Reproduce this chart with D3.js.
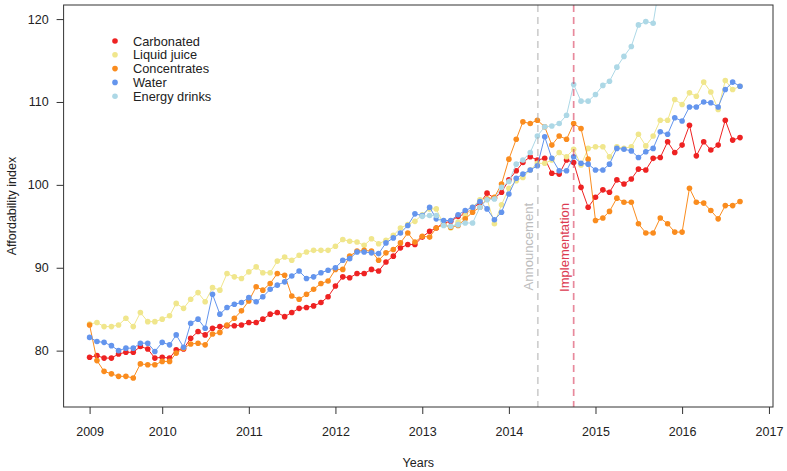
<!DOCTYPE html>
<html>
<head>
<meta charset="utf-8">
<script src="https://cdn.jsdelivr.net/npm/d3@7"></script>
<style>
  body { margin: 0; background: #fff; }
  svg { display: block; }
  text { font-family: "Liberation Sans", Arial, Helvetica, sans-serif; }
</style>
</head>
<body>
<svg id="chart" width="787" height="471"></svg>
<script>
// monthly index values, Mar 2009 .. Sep 2016 (91 months)
const carbonated = [79.2, 79.4, 79.1, 79.1, 79.6, 79.8, 79.8, 80.5, 80.2, 79.1, 79.2, 79.1, 80.1, 80.2, 81.5, 82.3, 81.9, 82.7, 82.9, 83.0,
  83.0, 83.1, 83.4, 83.4, 83.8, 84.4, 84.6, 84.1, 84.6, 85.1, 85.2, 85.4, 85.8, 86.5, 87.8, 88.9, 88.8, 89.3, 89.3, 89.8,
  89.6, 90.7, 91.4, 92.4, 92.8, 92.8, 93.7, 94.4, 94.8, 95.4, 95.6, 96.2, 96.5, 97.2, 97.8, 99.0, 98.4, 99.1, 100.6, 101.7,
  102.7, 103.4, 103.0, 103.2, 101.4, 101.3, 103.0, 102.7, 99.7, 97.3, 98.5, 99.4, 99.1, 100.6, 100.1, 100.7, 101.9, 101.8, 103.2, 103.3,
  105.2, 103.9, 104.8, 107.2, 103.5, 105.2, 104.2, 104.8, 107.8, 105.4, 105.7];
const liquidJuice = [83.2, 83.4, 82.9, 82.9, 83.1, 83.9, 82.9, 84.6, 83.5, 83.5, 83.8, 84.2, 85.7, 85.1, 86.2, 87.0, 85.9, 87.6, 87.3, 89.3,
  88.9, 88.7, 89.5, 90.1, 89.4, 89.4, 90.8, 91.3, 90.9, 91.5, 91.9, 92.1, 92.1, 92.1, 92.6, 93.4, 93.2, 93.1, 92.7, 93.5,
  92.9, 93.3, 93.9, 94.8, 95.2, 95.6, 96.4, 97.1, 97.1, 95.2, 94.8, 95.5, 96.3, 97.3, 98.2, 98.3, 95.3, 97.6, 99.6, 100.5,
  100.9, 101.8, 102.6, 102.6, 103.0, 103.9, 103.4, 104.3, 102.4, 104.4, 104.6, 104.6, 103.4, 104.6, 104.4, 104.6, 106.1, 104.7, 105.9, 107.8,
  107.8, 110.3, 109.7, 111.1, 110.7, 112.4, 111.2, 109.1, 112.6, 111.5, 111.9];
const concentrates = [83.1, 78.8, 77.5, 77.2, 76.9, 76.9, 76.7, 78.4, 78.3, 78.3, 78.7, 78.7, 79.7, 80.3, 80.8, 80.9, 80.7, 82.0, 82.2, 83.1,
  83.9, 84.8, 86.0, 87.7, 87.3, 88.1, 89.3, 89.1, 86.6, 86.2, 86.8, 87.4, 88.1, 88.4, 89.8, 89.8, 91.4, 92.0, 92.1, 92.0,
  90.9, 91.8, 92.2, 93.0, 94.2, 93.1, 93.8, 93.7, 94.8, 95.2, 94.9, 95.1, 95.9, 96.7, 97.3, 98.3, 98.5, 100.1, 103.1, 105.5,
  107.6, 107.4, 107.8, 107.0, 104.8, 105.9, 105.5, 107.4, 106.8, 103.1, 95.7, 96.0, 96.8, 98.4, 97.9, 97.9, 95.3, 94.2, 94.2, 96.0,
  95.3, 94.3, 94.3, 99.6, 97.9, 97.8, 96.9, 95.9, 97.5, 97.5, 98.0];
const water = [81.6, 81.1, 81.0, 80.6, 80.0, 80.3, 80.3, 80.9, 80.9, 79.9, 81.0, 80.7, 81.9, 80.4, 83.3, 83.8, 82.7, 86.8, 84.4, 85.2,
  85.6, 85.8, 86.4, 85.9, 86.5, 87.4, 87.9, 88.3, 89.0, 89.6, 88.7, 88.9, 89.4, 89.7, 90.0, 90.9, 91.1, 91.9, 91.9, 91.8,
  91.7, 93.0, 93.6, 94.2, 95.1, 96.5, 96.3, 97.3, 95.9, 95.7, 95.7, 96.4, 96.9, 97.3, 98.0, 97.1, 95.8, 96.7, 98.9, 100.8,
  101.3, 101.8, 102.3, 105.8, 103.2, 101.7, 101.7, 103.4, 102.6, 102.5, 101.8, 101.8, 102.5, 104.4, 104.3, 104.1, 103.3, 104.0, 104.4, 106.4,
  106.1, 108.1, 107.7, 109.4, 109.4, 110.0, 109.9, 109.4, 111.5, 112.4, 111.9];
// energy drinks start Jan 2013 and leave the plot at the top late 2015
const energyStart = 46;
const energyDrinks = [96.2, 96.3, 96.3, 95.1, 95.0, 95.2, 95.4, 95.4, 97.3, 98.2, 98.3, 99.7, 100.4, 102.5,
  103.0, 103.9, 105.9, 107.0, 107.1, 107.4, 108.4, 112.1, 110.1, 110.1, 110.9, 112.0, 112.5, 114.2, 115.5, 116.7,
  119.3, 119.7, 119.5, 124.7];

const months = d3.timeMonth.range(new Date(2009, 2, 1), new Date(2016, 9, 1));
const tickDates = [new Date(2009, 2, 1), new Date(2010, 0, 1), new Date(2011, 0, 1), new Date(2012, 0, 1), new Date(2013, 0, 1),
  new Date(2014, 0, 1), new Date(2015, 0, 1), new Date(2016, 0, 1), new Date(2017, 0, 1)];
const tickLabels = ["2009", "2010", "2011", "2012", "2013", "2014", "2015", "2016", "2017"];
const yTicks = [80, 90, 100, 110, 120];
const eventNames = ["Announcement", "Implementation"];
const eventDates = [new Date(2014, 4, 3), new Date(2014, 9, 1)];

const series = [
  {name: "Carbonated", values: carbonated, start: 0, color: "#EE2222"},
  {name: "Liquid juice", values: liquidJuice, start: 0, color: "#F0E68C"},
  {name: "Concentrates", values: concentrates, start: 0, color: "#FA8C1E"},
  {name: "Water", values: water, start: 0, color: "#6495ED"},
  {name: "Energy drinks", values: energyDrinks, start: energyStart, color: "#ADD8E6"}
];

const width = 787, height = 471;
const frame = {left: 63.6, right: 773, top: 5, bottom: 407};

const svg = d3.select("#chart");

const x = d3.scaleTime()
    .domain([months[0], months[months.length - 1]])
    .range([89.6, 740]);

const y = d3.scaleLinear()
    .domain([73.2, 121.7])
    .range([frame.bottom, frame.top]);

svg.append("defs").append("clipPath").attr("id", "plot")
  .append("rect")
    .attr("x", frame.left).attr("y", frame.top)
    .attr("width", frame.right - frame.left).attr("height", frame.bottom - frame.top);

const line = d3.line()
    .x(d => x(d.date))
    .y(d => y(d.value));

const plot = svg.append("g").attr("clip-path", "url(#plot)");

for (const s of series) {
  const pts = s.values.map((v, i) => ({date: months[s.start + i], value: v}));
  const g = plot.append("g");
  g.append("path")
      .datum(pts)
      .attr("fill", "none")
      .attr("stroke", s.color)
      .attr("stroke-width", 1)
      .attr("d", line);
  g.selectAll("circle")
    .data(pts)
    .join("circle")
      .attr("cx", d => x(d.date))
      .attr("cy", d => y(d.value))
      .attr("r", 2.8)
      .attr("fill", s.color);
}

// event lines
const eventColor = ["#A8A8A8", "#D6284A"];
const eventText = ["#BDBDBD", "#DC3A50"];
eventDates.forEach((d, i) => {
  const ex = x(d);
  svg.append("line")
      .attr("x1", ex).attr("x2", ex)
      .attr("y1", frame.top).attr("y2", frame.bottom)
      .attr("stroke", eventColor[i])
      .attr("stroke-opacity", 0.55)
      .attr("stroke-width", 1.7)
      .attr("stroke-dasharray", "7,5");
  svg.append("text")
      .attr("transform", `translate(${ex - 9},203) rotate(-90)`)
      .attr("text-anchor", "end")
      .attr("dominant-baseline", "central")
      .attr("fill", eventText[i])
      .style("font-size", "13px")
      .text(eventNames[i]);
});

// frame
svg.append("rect")
    .attr("x", frame.left).attr("y", frame.top)
    .attr("width", frame.right - frame.left).attr("height", frame.bottom - frame.top)
    .attr("fill", "none")
    .attr("stroke", "#333")
    .attr("stroke-width", 1);

// axes
svg.append("g")
    .attr("transform", `translate(0,${frame.bottom})`)
    .call(d3.axisBottom(x).tickValues(tickDates).tickFormat((d, i) => tickLabels[i]).tickSize(7).tickPadding(13))
    .call(g => g.select(".domain").remove())
    .call(g => g.selectAll("line").attr("stroke", "#333"))
    .call(g => g.selectAll("text").attr("fill", "#222").style("font-size", "12.5px").style("font-family", "Liberation Sans, Arial, sans-serif"));

svg.append("g")
    .attr("transform", `translate(${frame.left},0)`)
    .call(d3.axisLeft(y).tickValues(yTicks).tickSize(7).tickPadding(8))
    .call(g => g.select(".domain").remove())
    .call(g => g.selectAll("line").attr("stroke", "#333"))
    .call(g => g.selectAll("text").attr("fill", "#222").style("font-size", "12.5px").style("font-family", "Liberation Sans, Arial, sans-serif"));

svg.append("text")
    .attr("x", (frame.left + frame.right) / 2).attr("y", 467)
    .attr("text-anchor", "middle")
    .attr("fill", "#222")
    .style("font-size", "12.5px")
    .text("Years");

svg.append("text")
    .attr("transform", `translate(16,${(frame.top + frame.bottom) / 2}) rotate(-90)`)
    .attr("text-anchor", "middle")
    .attr("fill", "#222")
    .style("font-size", "12.5px")
    .text("Affordability index");

// legend
const legend = svg.append("g");
series.forEach((s, i) => {
  const ly = 41 + i * 13.8;
  legend.append("circle")
      .attr("cx", 115).attr("cy", ly).attr("r", 2.8)
      .attr("fill", s.color);
  legend.append("text")
      .attr("x", 133).attr("y", ly)
      .attr("dominant-baseline", "central")
      .attr("fill", "#222")
      .style("font-size", "12.8px")
      .text(s.name);
});
</script>
</body>
</html>
